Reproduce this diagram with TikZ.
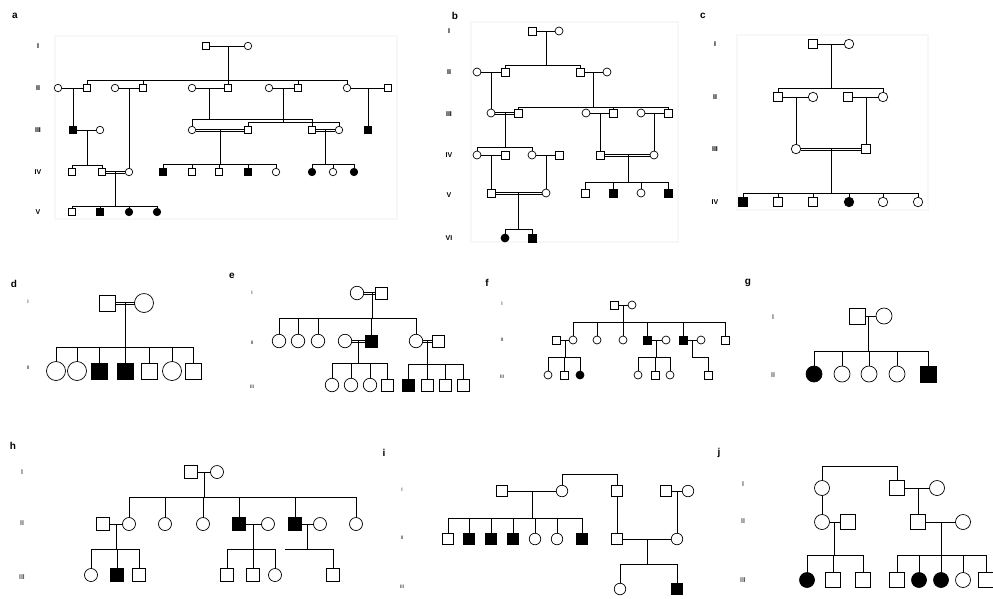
\documentclass[tikz,border=0pt]{standalone}
\usepackage{fontspec}
\setmainfont{Liberation Sans}
\setsansfont{Liberation Sans}
\begin{document}
\begin{tikzpicture}[x=1pt,y=-1pt,
  base/.style={draw=black,line width=0.7pt,inner sep=0pt,outer sep=0pt,fill=white},
  ma/.style={base,rectangle,minimum size=\sz},
  fe/.style={base,circle,minimum size=\sz},
  maA/.style={ma,fill=black},
  feA/.style={fe,fill=black},
  ln/.style={line width=0.6pt},
  gen/.style={font=\fontsize{7}{8}\selectfont\bfseries},
  gens/.style={font=\fontsize{5}{6}\selectfont},
  genm/.style={font=\fontsize{7}{8}\selectfont},
  lab/.style={font=\fontsize{10}{12}\selectfont\bfseries},
  faint/.style={draw=black!3,line width=2.5pt}]
\newcommand\pkid[2]{\draw[ln] (#1.north) |- (#2);}
\newcommand\dbline[2]{\draw[ln,transform canvas={yshift=1.1pt}] (#1) -- (#2);
  \draw[ln,transform canvas={yshift=-1.1pt}] (#1) -- (#2);}
\useasboundingbox (0,0) rectangle (993,598);
\fill[white] (0,0) rectangle (993,598);
\draw[faint] (55,36) rectangle (397,219);
\draw[faint] (471,22) rectangle (678,242);
\draw[faint] (737,35) rectangle (928,210);

% ---------------- panel a
\def\sz{7.5pt}
\node[lab] (la) at (15,16) {a};
\node[gen] (aGI) at (38,46) {I};
\node[gen] (aGII) at (38,88) {II};
\node[gen] (aGIII) at (38,130) {III};
\node[gen] (aGIV) at (38,172) {IV};
\node[gen] (aGV) at (38,212) {V};
\node[ma] (aI1) at (206,46) {};
\node[fe] (aI2) at (248,46) {};
\node[fe] (aII1) at (58,88) {};
\node[ma] (aII2) at (87,88) {};
\node[fe] (aII3) at (115,88) {};
\node[ma] (aII4) at (143,88) {};
\node[fe] (aII5) at (192,88) {};
\node[ma] (aII6) at (228,88) {};
\node[fe] (aII7) at (269,88) {};
\node[ma] (aII8) at (298,88) {};
\node[fe] (aII9) at (347,88) {};
\node[ma] (aII10) at (388,88) {};
\node[maA] (aIII1) at (73,130) {};
\node[fe] (aIII2) at (100,130) {};
\node[fe] (aIII3) at (192,130) {};
\node[ma] (aIII4) at (248,130) {};
\node[ma] (aIII5) at (312,130) {};
\node[fe] (aIII6) at (339,130) {};
\node[maA] (aIII7) at (368,130) {};
\node[ma] (aIV1) at (72,172) {};
\node[ma] (aIV2) at (102,172) {};
\node[fe] (aIV3) at (129,172) {};
\node[maA] (aIV4) at (163,172) {};
\node[ma] (aIV5) at (192,172) {};
\node[ma] (aIV6) at (219,172) {};
\node[maA] (aIV7) at (248,172) {};
\node[fe] (aIV8) at (276,172) {};
\node[feA] (aIV9) at (312,172) {};
\node[fe] (aIV10) at (333,172) {};
\node[feA] (aIV11) at (354,172) {};
\node[ma] (aV1) at (72,212) {};
\node[maA] (aV2) at (100,212) {};
\node[feA] (aV3) at (129,212) {};
\node[feA] (aV4) at (157,212) {};
\coordinate (am1) at (228,46); \coordinate (as1) at (228,80);
\draw[ln] (aI1) -- (aI2); \draw[ln] (am1) -- (as1);
\pkid{aII2}{as1} \pkid{aII4}{as1} \pkid{aII6}{as1} \pkid{aII8}{as1} \pkid{aII9}{as1}
\coordinate (am2) at (73,88); \draw[ln] (aII1) -- (aII2); \draw[ln] (am2) -- (aIII1);
\coordinate (am3) at (129,88); \draw[ln] (aII3) -- (aII4); \draw[ln] (am3) -- (aIV3);
\coordinate (am4) at (209,88); \coordinate (as4) at (209,119);
\draw[ln] (aII5) -- (aII6); \draw[ln] (am4) -- (as4); \pkid{aIII3}{as4} \pkid{aIII5}{as4}
\coordinate (am5) at (283,88); \coordinate (as5) at (283,122);
\draw[ln] (aII7) -- (aII8); \draw[ln] (am5) -- (as5); \pkid{aIII4}{as5} \pkid{aIII6}{as5}
\coordinate (am6) at (368,88); \draw[ln] (aII9) -- (aII10); \draw[ln] (am6) -- (aIII7);
\coordinate (am7) at (87,130); \coordinate (as7) at (87,165);
\draw[ln] (aIII1) -- (aIII2); \draw[ln] (am7) -- (as7); \pkid{aIV1}{as7} \pkid{aIV2}{as7}
\coordinate (am8) at (220,130); \coordinate (as8) at (220,164);
\dbline{aIII3}{aIII4} \draw[ln] (am8) -- (as8);
\pkid{aIV4}{as8} \pkid{aIV5}{as8} \pkid{aIV6}{as8} \pkid{aIV7}{as8} \pkid{aIV8}{as8}
\coordinate (am9) at (325,130); \coordinate (as9) at (325,164);
\dbline{aIII5}{aIII6} \draw[ln] (am9) -- (as9);
\pkid{aIV9}{as9} \pkid{aIV10}{as9} \pkid{aIV11}{as9}
\coordinate (am10) at (115,172); \coordinate (as10) at (115,206);
\dbline{aIV2}{aIV3} \draw[ln] (am10) -- (as10);
\pkid{aV1}{as10} \pkid{aV2}{as10} \pkid{aV3}{as10} \pkid{aV4}{as10}

% ---------------- panel b
\def\sz{8pt}
\node[lab] (lb) at (455,16) {b};
\node[gen] (bGI) at (449,31) {I};
\node[gen] (bGII) at (449,72) {II};
\node[gen] (bGIII) at (449,114) {III};
\node[gen] (bGIV) at (449,155) {IV};
\node[gen] (bGV) at (449,195) {V};
\node[gen] (bGVI) at (449,238) {VI};
\node[ma] (bI1) at (532,31) {};
\node[fe] (bI2) at (559,31) {};
\node[fe] (bII1) at (477,72) {};
\node[ma] (bII2) at (505,72) {};
\node[ma] (bII3) at (580,72) {};
\node[fe] (bII4) at (607,72) {};
\node[fe] (bIII1) at (491,113) {};
\node[ma] (bIII2) at (518,113) {};
\node[fe] (bIII3) at (586,113) {};
\node[ma] (bIII4) at (613,113) {};
\node[fe] (bIII5) at (641,113) {};
\node[ma] (bIII6) at (668,113) {};
\node[fe] (bIV1) at (477,155) {};
\node[ma] (bIV2) at (505,155) {};
\node[fe] (bIV3) at (532,155) {};
\node[ma] (bIV4) at (559,155) {};
\node[ma] (bIV5) at (600,155) {};
\node[fe] (bIV6) at (654,155) {};
\node[ma] (bV1) at (491,193) {};
\node[fe] (bV2) at (546,193) {};
\node[ma] (bV3) at (585,193) {};
\node[maA] (bV4) at (613,193) {};
\node[fe] (bV5) at (641,193) {};
\node[maA] (bV6) at (668,193) {};
\node[feA] (bVI1) at (505,238) {};
\node[maA] (bVI2) at (532,238) {};
\coordinate (bm1) at (546,31); \coordinate (bs1) at (546,65);
\draw[ln] (bI1) -- (bI2); \draw[ln] (bm1) -- (bs1); \pkid{bII2}{bs1} \pkid{bII3}{bs1}
\coordinate (bm2) at (491,72); \draw[ln] (bII1) -- (bII2); \draw[ln] (bm2) -- (bIII1);
\coordinate (bm3) at (593,72); \coordinate (bs3) at (593,107);
\draw[ln] (bII3) -- (bII4); \draw[ln] (bm3) -- (bs3); \pkid{bIII2}{bs3} \pkid{bIII4}{bs3} \pkid{bIII6}{bs3}
\coordinate (bm4) at (505,113); \coordinate (bs4) at (505,147);
\dbline{bIII1}{bIII2} \draw[ln] (bm4) -- (bs4); \pkid{bIV1}{bs4} \pkid{bIV3}{bs4}
\coordinate (bm5) at (600,113); \draw[ln] (bIII3) -- (bIII4); \draw[ln] (bm5) -- (bIV5);
\coordinate (bm6) at (654,113); \draw[ln] (bIII5) -- (bIII6); \draw[ln] (bm6) -- (bIV6);
\coordinate (bm7) at (491,155); \draw[ln] (bIV1) -- (bIV2); \draw[ln] (bm7) -- (bV1);
\coordinate (bm8) at (546,155); \draw[ln] (bIV3) -- (bIV4); \draw[ln] (bm8) -- (bV2);
\coordinate (bm9) at (628,155); \coordinate (bs9) at (628,182);
\dbline{bIV5}{bIV6} \draw[ln] (bm9) -- (bs9);
\pkid{bV3}{bs9} \pkid{bV4}{bs9} \pkid{bV5}{bs9} \pkid{bV6}{bs9}
\coordinate (bm10) at (518,193); \coordinate (bs10) at (518,229);
\dbline{bV1}{bV2} \draw[ln] (bm10) -- (bs10); \pkid{bVI1}{bs10} \pkid{bVI2}{bs10}

% ---------------- panel c
\def\sz{9.5pt}
\node[lab] (lc) at (703,16) {c};
\node[gen] (cGI) at (715,44) {I};
\node[gen] (cGII) at (715,97) {II};
\node[gen] (cGIII) at (715,149) {III};
\node[gen] (cGIV) at (715,202) {IV};
\node[ma] (cI1) at (813,44) {};
\node[fe] (cI2) at (849,44) {};
\node[ma] (cII1) at (778,97) {};
\node[fe] (cII2) at (813,97) {};
\node[ma] (cII3) at (848,97) {};
\node[fe] (cII4) at (883,97) {};
\node[fe] (cIII1) at (796,149) {};
\node[ma] (cIII2) at (866,149) {};
\node[maA] (cIV1) at (743,202) {};
\node[ma] (cIV2) at (778,202) {};
\node[ma] (cIV3) at (813,202) {};
\node[feA] (cIV4) at (849,202) {};
\node[fe] (cIV5) at (883,202) {};
\node[fe] (cIV6) at (918,202) {};
\coordinate (cm1) at (831,44); \coordinate (cs1) at (831,88);
\draw[ln] (cI1) -- (cI2); \draw[ln] (cm1) -- (cs1); \pkid{cII1}{cs1} \pkid{cII4}{cs1}
\coordinate (cm2) at (796,97); \draw[ln] (cII1) -- (cII2); \draw[ln] (cm2) -- (cIII1);
\coordinate (cm3) at (866,97); \draw[ln] (cII3) -- (cII4); \draw[ln] (cm3) -- (cIII2);
\coordinate (cm4) at (831,149); \coordinate (cs4) at (831,193);
\dbline{cIII1}{cIII2} \draw[ln] (cm4) -- (cs4);
\pkid{cIV1}{cs4} \pkid{cIV2}{cs4} \pkid{cIV3}{cs4} \pkid{cIV4}{cs4} \pkid{cIV5}{cs4} \pkid{cIV6}{cs4}

% ---------------- panel d
\def\sz{16pt}
\node[lab] (ld) at (14,284) {d};
\node[gens] (dGI) at (28,302) {I};
\node[gens] (dGII) at (28,368) {II};
\node[ma] (dI1) at (107,303) {};
\node[fe,minimum size=19pt] (dI2) at (144,303) {};
\node[fe,minimum size=19pt] (dII1) at (56,371) {};
\node[fe,minimum size=19pt] (dII2) at (77,371) {};
\node[maA] (dII3) at (99,371) {};
\node[maA] (dII4) at (125,371) {};
\node[ma] (dII5) at (149,371) {};
\node[fe,minimum size=19pt] (dII6) at (172,371) {};
\node[ma] (dII7) at (193,371) {};
\coordinate (dm1) at (125,303); \coordinate (ds1) at (125,347);
\dbline{dI1}{dI2} \draw[ln] (dm1) -- (ds1);
\pkid{dII1}{ds1} \pkid{dII2}{ds1} \pkid{dII3}{ds1} \pkid{dII4}{ds1} \pkid{dII5}{ds1} \pkid{dII6}{ds1} \pkid{dII7}{ds1}

% ---------------- panel e
\def\sz{12pt}
\node[lab] (le) at (232,276) {e};
\node[gens] (eGI) at (252,293) {I};
\node[gens] (eGII) at (252,343) {II};
\node[gens] (eGIII) at (252,387) {III};
\tikzset{fe/.append style={minimum size=13.5pt}}
\node[fe] (eI1) at (357,293) {};
\node[ma] (eI2) at (381,293) {};
\node[fe] (eII1) at (279,341) {};
\node[fe] (eII2) at (298,341) {};
\node[fe] (eII3) at (318,341) {};
\node[fe] (eII4) at (345,341) {};
\node[maA] (eII5) at (371,341) {};
\node[fe] (eII6) at (416,341) {};
\node[ma] (eII7) at (438,341) {};
\node[fe] (eIII1) at (332,385) {};
\node[fe] (eIII2) at (351,385) {};
\node[fe] (eIII3) at (370,385) {};
\node[ma] (eIII4) at (387,385) {};
\node[maA] (eIII5) at (408,385) {};
\node[ma] (eIII6) at (427,385) {};
\node[ma] (eIII7) at (445,385) {};
\node[ma] (eIII8) at (463,385) {};
\coordinate (em1) at (372,293); \coordinate (es1) at (372,318);
\dbline{eI1}{eI2} \draw[ln] (em1) -- (es1);
\pkid{eII1}{es1} \pkid{eII2}{es1} \pkid{eII3}{es1} \pkid{eII5}{es1} \pkid{eII6}{es1}
\coordinate (em2) at (358,341); \coordinate (es2) at (358,363);
\dbline{eII4}{eII5} \draw[ln] (em2) -- (es2);
\pkid{eIII1}{es2} \pkid{eIII2}{es2} \pkid{eIII3}{es2} \pkid{eIII4}{es2}
\coordinate (em3) at (427,341); \coordinate (es3) at (427,364);
\dbline{eII6}{eII7} \draw[ln] (em3) -- (es3);
\pkid{eIII5}{es3} \pkid{eIII6}{es3} \pkid{eIII7}{es3} \pkid{eIII8}{es3}
\tikzset{fe/.append style={minimum size=\sz}}

% ---------------- panel f
\def\sz{8pt}
\node[lab] (lf) at (487,283) {f};
\node[gens] (fGI) at (502,304) {I};
\node[gens] (fGII) at (502,340) {II};
\node[gens] (fGIII) at (502,377) {III};
\node[ma] (fI1) at (614,305) {};
\node[fe] (fI2) at (632,305) {};
\node[ma] (fII1) at (556,340) {};
\node[fe] (fII2) at (573,340) {};
\node[fe] (fII3) at (597,340) {};
\node[fe] (fII4) at (623,340) {};
\node[maA] (fII5) at (647,340) {};
\node[fe] (fII6) at (666,340) {};
\node[maA] (fII7) at (683,340) {};
\node[fe] (fII8) at (701,340) {};
\node[ma] (fII9) at (725,340) {};
\node[fe] (fIII1) at (548,375) {};
\node[ma] (fIII2) at (564,375) {};
\node[feA] (fIII3) at (580,375) {};
\node[fe] (fIII4) at (638,375) {};
\node[ma] (fIII5) at (655,375) {};
\node[fe] (fIII6) at (670,375) {};
\node[ma] (fIII7) at (708,375) {};
\coordinate (fm1) at (623,305); \coordinate (fs1) at (623,322);
\draw[ln] (fI1) -- (fI2); \draw[ln] (fm1) -- (fs1);
\pkid{fII2}{fs1} \pkid{fII3}{fs1} \pkid{fII4}{fs1} \pkid{fII5}{fs1} \pkid{fII7}{fs1} \pkid{fII9}{fs1}
\coordinate (fm2) at (565,340); \coordinate (fs2) at (565,357);
\draw[ln] (fII1) -- (fII2); \draw[ln] (fm2) -- (fs2);
\pkid{fIII1}{fs2} \pkid{fIII2}{fs2} \pkid{fIII3}{fs2}
\coordinate (fm3) at (656,340); \coordinate (fs3) at (656,357);
\draw[ln] (fII5) -- (fII6); \draw[ln] (fm3) -- (fs3);
\pkid{fIII4}{fs3} \pkid{fIII5}{fs3} \pkid{fIII6}{fs3}
\coordinate (fm4) at (692,340); \coordinate (fs4) at (692,357);
\draw[ln] (fII7) -- (fII8); \draw[ln] (fm4) -- (fs4); \pkid{fIII7}{fs4}

% ---------------- panel g
\def\sz{16pt}
\node[lab] (lg) at (748,283) {g};
\node[genm] (gGI) at (773,317) {I};
\node[genm] (gGII) at (773,375) {II};
\node[ma] (gI1) at (857,316) {};
\node[fe] (gI2) at (884,316) {};
\node[feA] (gII1) at (814,374) {};
\node[fe] (gII2) at (842,374) {};
\node[fe] (gII3) at (869,374) {};
\node[fe] (gII4) at (897,374) {};
\node[maA] (gII5) at (928,374) {};
\coordinate (gm1) at (868,316); \coordinate (gs1) at (868,351);
\draw[ln] (gI1) -- (gI2); \draw[ln] (gm1) -- (gs1);
\pkid{gII1}{gs1} \pkid{gII2}{gs1} \pkid{gII3}{gs1} \pkid{gII4}{gs1} \pkid{gII5}{gs1}

% ---------------- panel h
\def\sz{13pt}
\node[lab] (lh) at (13,446) {h};
\node[genm] (hGI) at (22,472) {I};
\node[genm] (hGII) at (22,523) {II};
\node[genm] (hGIII) at (22,577) {III};
\node[ma] (hI1) at (191,472) {};
\node[fe] (hI2) at (217,472) {};
\node[ma] (hII1) at (103,524) {};
\node[fe] (hII2) at (129,524) {};
\node[fe] (hII3) at (165,524) {};
\node[fe] (hII4) at (203,524) {};
\node[maA] (hII5) at (239,524) {};
\node[fe] (hII6) at (268,524) {};
\node[maA] (hII7) at (295,524) {};
\node[fe] (hII8) at (320,524) {};
\node[fe] (hII9) at (356,524) {};
\node[fe] (hIII1) at (91,575) {};
\node[maA] (hIII2) at (117,575) {};
\node[ma] (hIII3) at (139,575) {};
\node[ma] (hIII4) at (227,575) {};
\node[ma] (hIII5) at (253,575) {};
\node[fe] (hIII6) at (275,575) {};
\node[ma] (hIII7) at (333,575) {};
\coordinate (hm1) at (204,472); \coordinate (hs1) at (204,497);
\draw[ln] (hI1) -- (hI2); \draw[ln] (hm1) -- (hs1);
\pkid{hII2}{hs1} \pkid{hII3}{hs1} \pkid{hII4}{hs1} \pkid{hII5}{hs1} \pkid{hII7}{hs1} \pkid{hII9}{hs1}
\coordinate (hm2) at (116,524); \coordinate (hs2) at (116,549);
\draw[ln] (hII1) -- (hII2); \draw[ln] (hm2) -- (hs2);
\pkid{hIII1}{hs2} \pkid{hIII2}{hs2} \pkid{hIII3}{hs2}
\coordinate (hm3) at (253,524); \coordinate (hs3) at (253,549);
\draw[ln] (hII5) -- (hII6); \draw[ln] (hm3) -- (hs3);
\pkid{hIII4}{hs3} \pkid{hIII5}{hs3} \pkid{hIII6}{hs3}
\coordinate (hm4) at (307,524); \coordinate (hs4) at (307,549); \coordinate (hs4l) at (285,549);
\draw[ln] (hII7) -- (hII8); \draw[ln] (hm4) -- (hs4) -- (hs4l); \pkid{hIII7}{hs4}

% ---------------- panel i
\def\sz{11.5pt}
\node[lab] (li) at (384,453) {i};
\node[gens] (iGI) at (402,490) {I};
\node[gens] (iGII) at (402,538) {II};
\node[gens] (iGIII) at (402,587) {III};
\node[ma] (iI1) at (502,491) {};
\node[fe] (iI2) at (562,491) {};
\node[ma] (iI3) at (617,491) {};
\node[ma] (iI4) at (666,491) {};
\node[fe] (iI5) at (688,491) {};
\node[ma] (iII1) at (448,539) {};
\node[maA] (iII2) at (469,539) {};
\node[maA] (iII3) at (491,539) {};
\node[maA] (iII4) at (513,539) {};
\node[fe] (iII5) at (535,539) {};
\node[fe] (iII6) at (557,539) {};
\node[maA] (iII7) at (582,539) {};
\node[ma] (iII8) at (617,539) {};
\node[fe] (iII9) at (677,539) {};
\node[fe] (iIII1) at (620,589) {};
\node[maA] (iIII2) at (677,589) {};
\coordinate (im1) at (532,491); \coordinate (is1) at (532,518);
\draw[ln] (iI1) -- (iI2); \draw[ln] (im1) -- (is1);
\pkid{iII1}{is1} \pkid{iII2}{is1} \pkid{iII3}{is1} \pkid{iII4}{is1} \pkid{iII5}{is1} \pkid{iII6}{is1} \pkid{iII7}{is1}
\coordinate (it1) at (562,474); \coordinate (it2) at (617,474);
\draw[ln] (iI2) -- (it1) -- (it2) -- (iI3);
\draw[ln] (iI3) -- (iII8);
\coordinate (im2) at (677,491); \draw[ln] (iI4) -- (iI5); \draw[ln] (im2) -- (iII9);
\coordinate (im3) at (647,539); \coordinate (is3) at (647,564);
\draw[ln] (iII8) -- (iII9); \draw[ln] (im3) -- (is3); \pkid{iIII1}{is3} \pkid{iIII2}{is3}

% ---------------- panel j
\def\sz{15pt}
\node[lab] (lj) at (719,453) {j};
\node[genm] (jGI) at (743,484) {I};
\node[genm] (jGII) at (743,521) {II};
\node[genm] (jGIII) at (743,580) {III};
\node[fe] (jI1) at (822,488) {};
\node[ma] (jI2) at (897,488) {};
\node[fe] (jI3) at (937,488) {};
\node[fe] (jII1) at (822,522) {};
\node[ma] (jII2) at (848,522) {};
\node[ma] (jII3) at (918,522) {};
\node[fe] (jII4) at (963,522) {};
\node[feA] (jIII1) at (807,580) {};
\node[ma] (jIII2) at (833,580) {};
\node[ma] (jIII3) at (863,580) {};
\node[ma] (jIII4) at (897,580) {};
\node[feA] (jIII5) at (919,580) {};
\node[feA] (jIII6) at (941,580) {};
\node[fe] (jIII7) at (963,580) {};
\node[ma] (jIII8) at (986,580) {};
\coordinate (jt1) at (822,466); \coordinate (jt2) at (897,466);
\draw[ln] (jI1) -- (jt1) -- (jt2) -- (jI2);
\draw[ln] (jI1) -- (jII1);
\coordinate (jm1) at (918,488); \draw[ln] (jI2) -- (jI3); \draw[ln] (jm1) -- (jII3);
\coordinate (jm2) at (834,522); \coordinate (js2) at (834,555);
\draw[ln] (jII1) -- (jII2); \draw[ln] (jm2) -- (js2);
\pkid{jIII1}{js2} \pkid{jIII2}{js2} \pkid{jIII3}{js2}
\coordinate (jm3) at (941,522); \coordinate (js3) at (941,555);
\draw[ln] (jII3) -- (jII4); \draw[ln] (jm3) -- (js3);
\pkid{jIII4}{js3} \pkid{jIII5}{js3} \pkid{jIII6}{js3} \pkid{jIII7}{js3} \pkid{jIII8}{js3}
\end{tikzpicture}
\end{document}
